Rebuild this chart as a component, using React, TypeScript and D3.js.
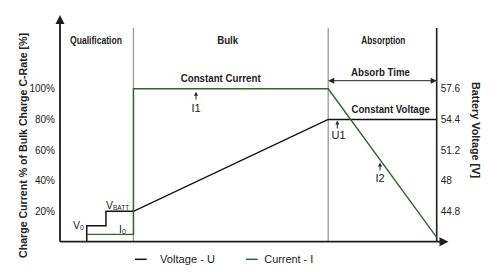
import React from "react";
import * as d3 from "d3";

const W = 504;
const H = 272;

const leftTicks = [20, 40, 60, 80, 100];
const leftTickLabels = ["20%", "40%", "60%", "80%", "100%"];
const rightTicks = [44.8, 48, 51.2, 54.4, 57.6];
const rightTickLabels = ["44.8", "48", "51.2", "54.4", "57.6"];

// time (arbitrary units 0..100) and charge current [% of bulk C-rate]
const currentTime = [7.1, 19.5, 19.5, 71.2, 100];
const currentPct = [5, 5, 100, 100, 3];
// time and battery voltage [V]
const voltageTime = [7.1, 7.1, 12.2, 12.2, 19.5, 71.2, 100];
const voltageV = [41.6, 43.3, 43.3, 44.8, 44.8, 54.4, 54.4];

const phaseBounds = [19.5, 71.2];
const phaseNames = ["Qualification", "Bulk", "Absorption"];
const phaseNameLengths = [52, 21, 44];

const GREEN = "#2e672b";
const AXIS = "#1e1e1e";
const FONT = "'Liberation Sans', Arial, Helvetica, sans-serif";

export default function App() {
  const x = d3.scaleLinear().domain([0, 100]).range([60, 436.7]);
  const yL = d3.scaleLinear().domain([0, 100]).range([242, 88.8]);
  const yR = d3.scaleLinear().domain([41.6, 57.6]).range([242, 88.8]);
  const axisY = 241.7;
  const topY = 28;

  const curLine = d3
    .line<number>()
    .x((_, i) => x(currentTime[i]))
    .y((d) => yL(d));
  const voltLine = d3
    .line<number>()
    .x((_, i) => x(voltageTime[i]))
    .y((d) => Math.min(yR(d), axisY));

  const phaseCenters = [96, 227.7, 383.3];

  const upArrow = (cx: number, tip: number, len: number) => (
    <g>
      <line x1={cx} x2={cx} y1={tip + 3} y2={tip + len} stroke="#222" strokeWidth={1} />
      <path d={`M${cx},${tip} L${cx - 2},${tip + 4} L${cx + 2},${tip + 4} Z`} fill="#222" />
    </g>
  );

  return (
    <svg width={W} height={H} style={{ position: "absolute", left: 0, top: 0, background: "#fff" }} fontFamily={FONT}>
      <rect width={W} height={H} fill="#fff" />
      {/* phase divider lines */}
      {phaseBounds.map((b, i) => (
        <line key={i} x1={x(b)} x2={x(b)} y1={topY} y2={axisY} stroke="#9a9a9a" strokeWidth={1.3} />
      ))}
      {/* right axis */}
      <line x1={x(100)} x2={x(100)} y1={topY} y2={axisY} stroke={AXIS} strokeWidth={1.6} />
      {/* phase names */}
      {phaseNames.map((n, i) => (
        <text
          key={n}
          x={phaseCenters[i]}
          y={44}
          textAnchor="middle"
          fontSize={10.5}
          fontWeight="bold"
          fill="#222"
          textLength={phaseNameLengths[i]}
          lengthAdjust="spacingAndGlyphs"
        >
          {n}
        </text>
      ))}
      {/* absorb time arrow */}
      <line x1={x(phaseBounds[1]) + 4} x2={x(100) - 4} y1={80.7} y2={80.7} stroke="#222" strokeWidth={1} />
      <path d={`M${x(phaseBounds[1])},80.7 l6,-3 l0,6 Z`} fill="#222" />
      <path d={`M${x(100)},80.7 l-6,-3 l0,6 Z`} fill="#222" />
      <text x={380.5} y={76} textAnchor="middle" fontSize={11} fontWeight="bold" fill="#222" textLength={59} lengthAdjust="spacingAndGlyphs">
        Absorb Time
      </text>
      <text x={220.7} y={81.5} textAnchor="middle" fontSize={11} fontWeight="bold" fill="#222" textLength={80} lengthAdjust="spacingAndGlyphs">
        Constant Current
      </text>
      <text x={390.7} y={113.3} textAnchor="middle" fontSize={11} fontWeight="bold" fill="#222" textLength={78.5} lengthAdjust="spacingAndGlyphs">
        Constant Voltage
      </text>

      {/* data lines */}
      <path d={voltLine(voltageV) || ""} fill="none" stroke="#111" strokeWidth={1.5} />
      <path d={curLine(currentPct) || ""} fill="none" stroke={GREEN} strokeWidth={1.4} />

      {/* annotations */}
      {upArrow(196, 91.7, 8)}
      <text x={196} y={111.5} textAnchor="middle" fontSize={11} fill="#222">I1</text>
      {upArrow(337.3, 120.5, 8)}
      <text x={338.5} y={138.5} textAnchor="middle" fontSize={11} fill="#222">U1</text>
      {upArrow(380, 162.5, 8)}
      <text x={380} y={182.3} textAnchor="middle" fontSize={11} fill="#222">I2</text>
      <text x={73} y={229} fontSize={10.5} fill="#222">
        V<tspan fontSize={7} dy={1}>0</tspan>
      </text>
      <text x={106} y={208.5} fontSize={10.5} fill="#222">
        V<tspan fontSize={6.5} dy={1}>BATT</tspan>
      </text>
      <text x={119} y={232.5} fontSize={10.5} fill="#222">
        I<tspan fontSize={7} dy={1}>0</tspan>
      </text>

      {/* left axis */}
      <line x1={60} x2={60} y1={22} y2={axisY} stroke={AXIS} strokeWidth={1.8} />
      <path d="M60,15 L55.5,24 L64.5,24 Z" fill={AXIS} />
      {/* bottom axis */}
      <line x1={60} x2={442} y1={axisY} y2={axisY} stroke={AXIS} strokeWidth={1.8} />
      <path d={`M448.5,${axisY} L439.5,${axisY - 4.5} L439.5,${axisY + 4.5} Z`} fill={AXIS} />

      {/* tick labels */}
      {leftTicks.map((t, i) => (
        <text key={t} x={55} y={yL(t)} dy="0.35em" textAnchor="end" fontSize={10} fill="#222">
          {leftTickLabels[i]}
        </text>
      ))}
      {rightTicks.map((t, i) => (
        <text key={t} x={440.7} y={yR(t)} dy="0.35em" textAnchor="start" fontSize={10} fill="#222">
          {rightTickLabels[i]}
        </text>
      ))}

      {/* axis titles */}
      <text
        transform="translate(22.7,145.5) rotate(-90)"
        textAnchor="middle"
        dominantBaseline="central"
        fontSize={11}
        fontWeight="bold"
        fill="#222"
        textLength={225}
        lengthAdjust="spacingAndGlyphs"
      >
        Charge Current % of Bulk Charge C-Rate [%]
      </text>
      <text
        transform="translate(475.8,130) rotate(90)"
        textAnchor="middle"
        dominantBaseline="central"
        fontSize={11}
        fontWeight="bold"
        fill="#222"
        textLength={96}
        lengthAdjust="spacingAndGlyphs"
      >
        Battery Voltage [V]
      </text>

      {/* legend */}
      <line x1={135} x2={146.7} y1={259.3} y2={259.3} stroke="#111" strokeWidth={1.5} />
      <text x={160} y={259.3} dy="0.35em" fontSize={10.5} fill="#222" textLength={55} lengthAdjust="spacingAndGlyphs">
        Voltage - U
      </text>
      <line x1={246} x2={257.7} y1={259.3} y2={259.3} stroke={GREEN} strokeWidth={1.5} />
      <text x={264.3} y={259.3} dy="0.35em" fontSize={10.5} fill="#222" textLength={49} lengthAdjust="spacingAndGlyphs">
        Current - I
      </text>
    </svg>
  );
}
